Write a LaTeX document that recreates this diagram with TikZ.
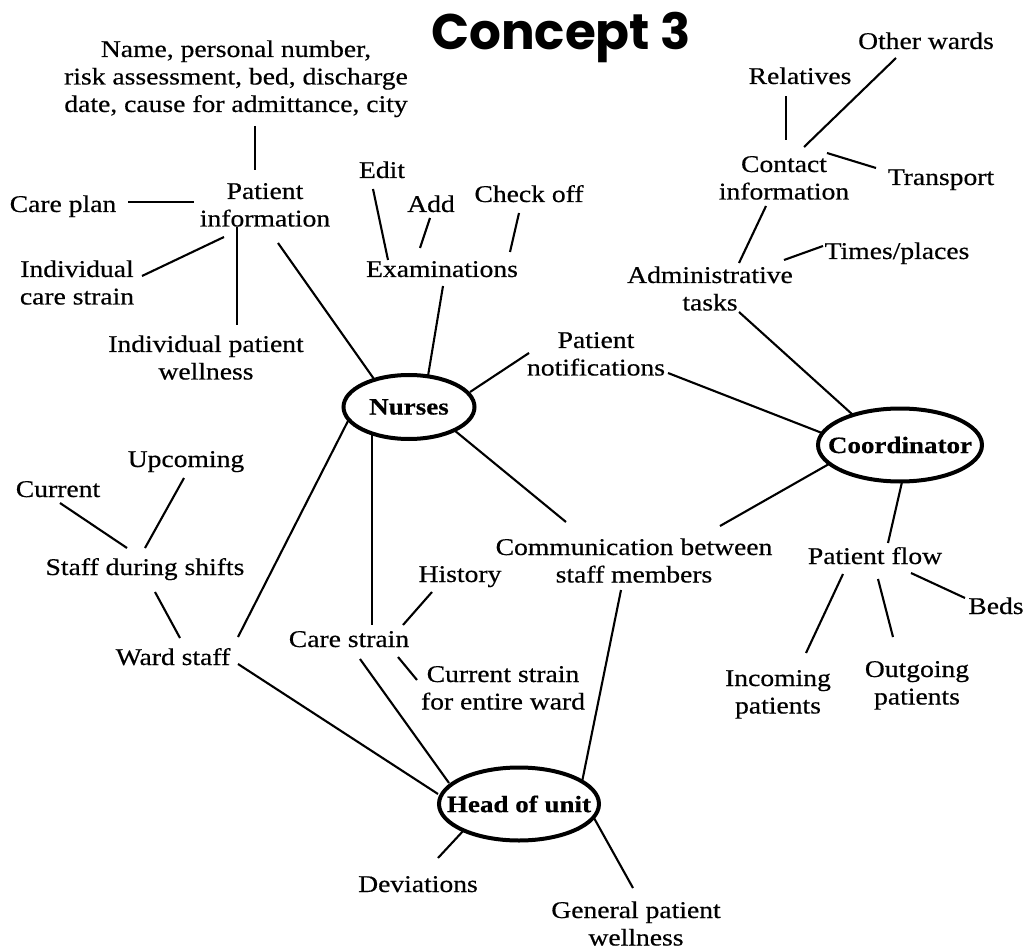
\documentclass[tikz,border=0pt]{standalone}
\usepackage{fontspec}
\setmainfont{Liberation Serif}[FakeStretch=1.15,FakeBold=0.5]
\newfontfamily\titlefont{Poppins}
\usetikzlibrary{shapes.geometric,calc}
\newcommand\mlines[1]{\begin{tabular}[t]{@{}c@{}}#1\end{tabular}}
\newcommand\lnk[4]{\draw[link] ($(#1)+#2$) -- ($(#3)+#4$);}
\begin{document}
\begin{tikzpicture}[x=1pt,y=-1pt,
  lbl/.style={inner sep=0pt, anchor=base, font=\fontsize{24}{27.5}\selectfont},
  ell/.style={ellipse, draw, line width=4pt, inner xsep=-20pt, inner ysep=0pt, font=\fontsize{23.5}{27}\selectfont\bfseries},
  link/.style={line width=2.1pt}]
\useasboundingbox (0,0) rectangle (1025,949);
\node[lbl, font=\titlefont\fontsize{50}{55}\selectfont\bfseries] (title) at (561,50) {Concept 3};
\node[lbl] (info) at (236,57) {\mlines{Name, personal number,\\ risk assessment, bed, discharge\\ date, cause for admittance, city}};
\node[lbl] (patinfo) at (265,199) {\mlines{Patient\\information}};
\node[lbl] (careplan) at (63,212) {Care plan};
\node[lbl] (indcare) at (77,277) {\mlines{Individual\\care strain}};
\node[lbl] (indwell) at (206,352) {\mlines{Individual patient\\wellness}};
\node[lbl] (edit) at (382,178) {Edit};
\node[lbl] (add) at (431,212) {Add};
\node[lbl] (checkoff) at (529,202) {Check off};
\node[lbl] (exam) at (442,277) {Examinations};
\node[ell, minimum width=131pt, minimum height=64pt] (nurses) at (409,407) {Nurses};
\node[lbl] (patnotif) at (596,348) {\mlines{Patient\\notifications}};
\node[ell, minimum width=164pt, minimum height=73pt] (coord) at (900,445) {Coordinator};
\node[lbl] (admin) at (710,283) {\mlines{Administrative\\tasks}};
\node[lbl] (contact) at (784,172) {\mlines{Contact\\information}};
\node[lbl] (relatives) at (800,84) {Relatives};
\node[lbl] (otherwards) at (926,49) {Other wards};
\node[lbl] (transport) at (941,185) {Transport};
\node[lbl] (times) at (897,259) {Times/places};
\node[lbl] (commun) at (634,555) {\mlines{Communication between\\staff members}};
\node[lbl] (patflow) at (875,564) {Patient flow};
\node[lbl] (beds) at (996,614) {Beds};
\node[lbl] (incoming) at (778,686) {\mlines{Incoming\\patients}};
\node[lbl] (outgoing) at (917,677) {\mlines{Outgoing\\patients}};
\node[ell, minimum width=160pt, minimum height=73pt] (head) at (519,804) {Head of unit};
\node[lbl] (deviations) at (418,892) {Deviations};
\node[lbl] (general) at (636,918) {\mlines{General patient\\wellness}};
\node[lbl] (current) at (58,497) {Current};
\node[lbl] (upcoming) at (186,467) {Upcoming};
\node[lbl] (staffshift) at (145,575) {Staff during shifts};
\node[lbl] (wardstaff) at (173,665) {Ward staff};
\node[lbl] (carestrain) at (349,647) {Care strain};
\node[lbl] (history) at (460,582) {History};
\node[lbl] (curstrain) at (503,682) {\mlines{Current strain\\for entire ward}};
\lnk{info.base}{(19,69)}{patinfo.base}{(-10,-29)}
\lnk{careplan.base}{(65,-10)}{patinfo.base}{(-71,3)}
\lnk{indcare.base}{(65,-1)}{patinfo.base}{(-41,38)}
\lnk{patinfo.base}{(-28,28)}{indwell.base}{(31,-27)}
\lnk{patinfo.base}{(13,44)}{nurses}{(-35,-28)}
\lnk{edit.base}{(-9,11)}{exam.base}{(-54,-17)}
\lnk{add.base}{(-1,6)}{exam.base}{(-22,-29)}
\lnk{checkoff.base}{(-10,11)}{exam.base}{(68,-25)}
\lnk{exam.base}{(1,9)}{nurses}{(19,-31)}
\lnk{nurses}{(61,-15)}{patnotif.base}{(-67,5)}
\lnk{patnotif.base}{(72,25)}{coord}{(-78,-12)}
\lnk{admin.base}{(29,29)}{coord}{(-47,-30)}
\lnk{contact.base}{(-18,34)}{admin.base}{(29,-20)}
\lnk{admin.base}{(74,-23)}{times.base}{(-74,-13)}
\lnk{contact.base}{(2,-32)}{relatives.base}{(-14,12)}
\lnk{contact.base}{(20,-25)}{otherwards.base}{(-30,9)}
\lnk{contact.base}{(43,-19)}{transport.base}{(-65,-17)}
\lnk{nurses}{(45,23)}{commun.base}{(-68,-33)}
\lnk{coord}{(-71,19)}{commun.base}{(86,-29)}
\lnk{commun.base}{(-13,35)}{head}{(63,-22)}
\lnk{coord}{(2,37)}{patflow.base}{(13,-21)}
\lnk{patflow.base}{(36,9)}{beds.base}{(-31,-16)}
\lnk{patflow.base}{(-32,10)}{incoming.base}{(28,-33)}
\lnk{patflow.base}{(3,15)}{outgoing.base}{(-24,-40)}
\lnk{head}{(-55,26)}{deviations.base}{(20,-34)}
\lnk{head}{(75,14)}{general.base}{(-3,-30)}
\lnk{current.base}{(2,6)}{staffshift.base}{(-18,-27)}
\lnk{upcoming.base}{(-2,11)}{staffshift.base}{(0,-27)}
\lnk{staffshift.base}{(10,17)}{wardstaff.base}{(7,-27)}
\lnk{wardstaff.base}{(65,-28)}{nurses}{(-60,12)}
\lnk{wardstaff.base}{(65,-1)}{head}{(-81,-10)}
\lnk{nurses}{(-37,27)}{carestrain.base}{(23,-22)}
\lnk{carestrain.base}{(54,-22)}{history.base}{(-28,10)}
\lnk{carestrain.base}{(49,10)}{curstrain.base}{(-86,-2)}
\lnk{carestrain.base}{(11,12)}{head}{(-70,-21)}
\end{tikzpicture}
\end{document}
